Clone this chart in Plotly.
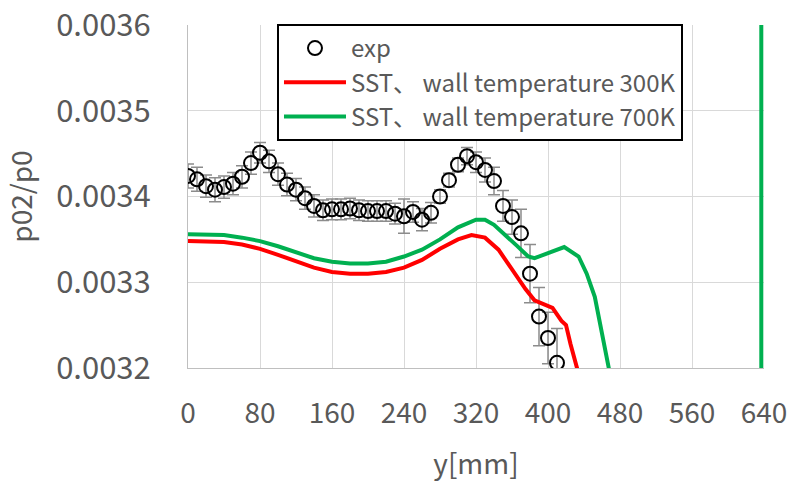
import plotly.graph_objects as go

# ---- data ----
exp_x = [0, 10, 20, 30, 40, 50, 60, 70, 80, 90, 100, 110, 120, 130, 140, 150,
         160, 170, 180, 190, 200, 210, 220, 230, 240, 250, 260, 270, 280, 290,
         300, 310, 320, 330, 340, 350, 360, 370, 380, 390, 400, 410]
exp_y = [0.003424, 0.003420, 0.003412, 0.003408, 0.003411, 0.003415, 0.003423,
         0.003439, 0.003451, 0.003441, 0.003426, 0.003414, 0.003408, 0.003398,
         0.003389, 0.003384, 0.003385, 0.003385, 0.003386, 0.003384, 0.003383,
         0.003383, 0.003383, 0.003380, 0.003377, 0.003382, 0.003373, 0.003381,
         0.003400, 0.003419, 0.003437, 0.003447, 0.003440, 0.003431, 0.003418,
         0.003389, 0.003376, 0.003357, 0.003310, 0.003260, 0.003235, 0.003206]
exp_err = [0.000014, 0.000014, 0.000013, 0.000014, 0.000013, 0.000013, 0.000013,
           0.000013, 0.000012, 0.000013, 0.000013, 0.000013, 0.000013, 0.000013,
           0.000013, 0.000012, 0.000012, 0.000012, 0.000012, 0.000012, 0.000012,
           0.000012, 0.000012, 0.000012, 0.000020, 0.000012, 0.000013, 0.000012,
           0.000008, 0.000008, 0.000008, 0.000010, 0.000012, 0.000014, 0.000016,
           0.000018, 0.000020, 0.000028, 0.000034, 0.000034, 0.000030, 0.000040]

t300_x = [0, 20, 40, 60, 80, 100, 120, 140, 160, 180, 200, 220, 240, 260, 280,
          300, 315, 330, 345, 360, 375, 385, 395, 405, 415, 420, 425, 432, 440]
t300_y = [0.003348, 0.003348, 0.003347, 0.003344, 0.003339, 0.003332, 0.003324,
          0.003317, 0.003312, 0.003310, 0.003310, 0.003312, 0.003317, 0.003326,
          0.003339, 0.003350, 0.003355, 0.003352, 0.003338, 0.003314, 0.003292,
          0.003279, 0.003275, 0.003270, 0.003255, 0.003250, 0.003228, 0.003200,
          0.003170]

t700_x = [0, 20, 40, 60, 80, 100, 120, 140, 160, 180, 200, 220, 240, 260, 280,
          300, 320, 330, 340, 350, 365, 378, 385, 400, 418, 434, 443, 452, 460,
          468, 475, None, 637, 637]
t700_y = [0.003356, 0.003356, 0.003355, 0.003352, 0.003348, 0.003342, 0.003335,
          0.003328, 0.003324, 0.003322, 0.003322, 0.003324, 0.003330, 0.003338,
          0.003350, 0.003364, 0.003373, 0.003373, 0.003367, 0.003358, 0.003343,
          0.003330, 0.003328, 0.003334, 0.003341, 0.003330, 0.003310, 0.003283,
          0.003244, 0.003200, 0.003160, None, 0.003100, 0.003700]

x_ticks = [0, 80, 160, 240, 320, 400, 480, 560, 640]
y_ticks = [0.0032, 0.0033, 0.0034, 0.0035, 0.0036]

FONT = "Noto Sans CJK SC"
TXT = "#595959"
GRID = "#d9d9d9"

fig = go.Figure()
fig.add_trace(go.Scatter(
    x=exp_x, y=exp_y, mode="markers", name="exp",
    marker=dict(symbol="circle-open", size=14, color="black",
                line=dict(width=2, color="black")),
    error_y=dict(type="data", array=exp_err, visible=True,
                 color="#8c8c8c", thickness=1.5, width=6),
))
fig.add_trace(go.Scatter(
    x=t300_x, y=t300_y, mode="lines", name="SST、 wall temperature 300K",
    line=dict(color="#ff0000", width=4),
))
fig.add_trace(go.Scatter(
    x=t700_x, y=t700_y, mode="lines", name="SST、 wall temperature 700K",
    line=dict(color="#00b050", width=4), connectgaps=False,
))

fig.update_layout(
    width=797, height=484,
    margin=dict(l=188, r=33, t=25, b=116, autoexpand=False),
    paper_bgcolor="white", plot_bgcolor="white",
    font=dict(family=FONT, color=TXT, size=28),
    showlegend=True,
    legend=dict(
        x=0.1545, y=1.003, xanchor="left", yanchor="top",
        bgcolor="white", bordercolor="black", borderwidth=2,
        itemwidth=62,
        font=dict(family=FONT, size=24, color=TXT),
    ),
)
fig.update_xaxes(
    range=[0, 640], tickvals=x_ticks, ticktext=[str(v) for v in x_ticks],
    showgrid=True, gridcolor=GRID, gridwidth=1,
    showline=True, linecolor="#bfbfbf", linewidth=1, zeroline=False,
    ticks="", ticklabelstandoff=20, automargin=False, ticklabeloverflow="allow",
    tickfont=dict(family=FONT, size=28, color=TXT),
    title=dict(text="y[mm]", font=dict(family=FONT, size=28, color=TXT), standoff=24),
)
fig.update_yaxes(
    range=[0.0032, 0.0036], tickvals=y_ticks, ticktext=[f"{v:.4f}" for v in y_ticks],
    showgrid=True, gridcolor=GRID, gridwidth=1,
    showline=True, linecolor="#bfbfbf", linewidth=1, zeroline=False,
    ticks="", ticklabelstandoff=30, automargin=False, ticklabeloverflow="allow",
    tickfont=dict(family=FONT, size=31, color=TXT),
    title=dict(text="p02/p0", font=dict(family=FONT, size=28, color=TXT), standoff=16),
)

fig.write_html(
    "out.html",
    config={"displayModeBar": False},
    post_script="document.body.style.margin='0px';document.body.style.overflow='hidden';",
)
